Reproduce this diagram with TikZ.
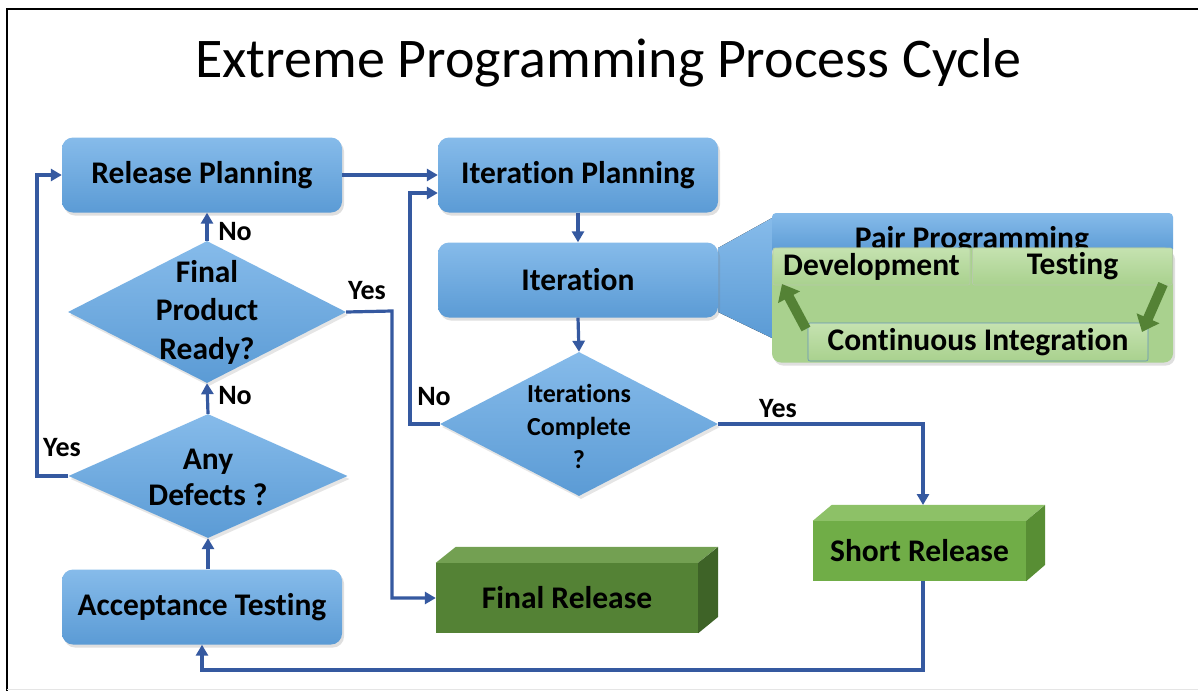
\documentclass[tikz,border=0pt]{standalone}
\usepackage{fontspec}
\setmainfont{Carlito}[Ligatures=NoCommon]
\usetikzlibrary{arrows.meta,shapes.geometric,shadows,calc}
\definecolor{boxblue}{HTML}{5B9BD5}
\definecolor{boxbluelt}{HTML}{86BBEA}
\definecolor{lineblue}{HTML}{3559A0}
\definecolor{ggreen}{HTML}{A9D18E}
\definecolor{ggreenlt}{HTML}{C5E2B0}
\definecolor{fgreen}{HTML}{548235}
\definecolor{fgreentop}{HTML}{73A052}
\definecolor{fgreenside}{HTML}{3E6327}
\definecolor{sgreen}{HTML}{70AD47}
\definecolor{sgreentop}{HTML}{8DC167}
\definecolor{sgreenside}{HTML}{588E34}
\definecolor{darrow}{HTML}{548235}
\tikzset{
  bbox/.style={rectangle, rounded corners=11pt, minimum width=280pt, minimum height=75pt,
    top color=boxbluelt, bottom color=boxblue, draw=none, inner sep=0pt,
    font=\fontsize{31.5}{34}\selectfont\bfseries,
    drop shadow={shadow xshift=2pt, shadow yshift=-3pt, opacity=0.25}},
  dshape/.style={diamond, inner sep=0pt, top color=boxbluelt, bottom color=boxblue, draw=none,
    drop shadow={shadow xshift=2pt, shadow yshift=-3pt, opacity=0.2}},
  dtext/.style={align=center, font=\fontsize{31.5}{38.5}\selectfont\bfseries, inner sep=0pt},
  conn/.style={draw=lineblue, line width=3.2pt, -{Triangle[length=11pt,width=12pt]}},
  lab/.style={font=\fontsize{28}{30}\selectfont\bfseries, inner sep=0pt},
  gbox/.style={rectangle, rounded corners=2pt, inner sep=0pt, top color=ggreenlt, bottom color=ggreen,
    draw=ggreen!80!black!60, line width=0.6pt, font=\fontsize{31.5}{34}\selectfont\bfseries},
  garrow/.style={draw=darrow, line width=10pt, -{Triangle[length=15pt,width=24pt]}},
}
\begin{document}
\begin{tikzpicture}[x=1pt,y=-1pt]
\useasboundingbox (0,0) rectangle (1198,691);
\fill[white] (0,0) rectangle (1198,691);
% frame
\draw[line width=2.6pt] (6,9) -- (1198,9);
\draw[line width=2.2pt] (7,9) -- (7,691);
\draw[black!10, line width=1pt] (7,689) -- (1198,689);

% title
\node[anchor=base, inner sep=0pt, font=\fontsize{56}{60}\selectfont] (title) at (608,77) {Extreme Programming Process Cycle};

% callout wedge
\fill[top color=boxbluelt, bottom color=boxblue] (718,248) -- (772,218) -- (772,338) -- (718,312) -- cycle;

% blue boxes
\node[bbox] (rp) at (202,175) {Release Planning};
\node[bbox] (ip) at (578,175) {Iteration Planning};
\node[bbox] (it) at (578,280) {Iteration};
\node[bbox] (at) at (202,607) {Acceptance Testing};

% diamonds
\node[dshape, minimum width=278pt, minimum height=142pt] (fp) at (207,312) {};
\node[dtext] (fpt) at (207,312) {Final\\Product\\Ready?};
\node[dshape, minimum width=279pt, minimum height=124pt] (ad) at (208,476) {};
\node[dtext, font=\fontsize{31.5}{36}\selectfont\bfseries] (adt) at (208,477) {Any\\Defects ?};
\node[dshape, minimum width=278pt, minimum height=144pt] (ic) at (579,424) {};
\node[dtext, font=\fontsize{26}{33}\selectfont\bfseries] (ict) at (579,426) {Iterations\\Complete\\?};

% Pair programming callout
\node[rectangle, rounded corners=4pt, minimum width=401pt, minimum height=40pt, inner sep=0pt,
  top color=boxbluelt, bottom color=boxblue] (pp) at (972.5,233) {};
\node[anchor=base, inner sep=0pt, font=\fontsize{31.5}{34}\selectfont\bfseries] (ppt) at (972,248) {Pair Programming};
\node[rectangle, rounded corners=9pt, minimum width=401pt, minimum height=115pt, inner sep=0pt,
  fill=ggreen, drop shadow={shadow xshift=2pt, shadow yshift=-3pt, opacity=0.25}] (gp) at (972.5,305) {};
\node[gbox, minimum width=197pt, minimum height=37pt] (dev) at (871.5,266.5) {Development};
\node[gbox, minimum width=200pt, minimum height=37pt] (tst) at (1072.5,266.5) {Testing};
\node[gbox, draw=boxblue!70!gray, minimum width=340pt, minimum height=38pt] (ci) at (978,342) {Continuous Integration};
\coordinate (ga1) at (806,329);
\coordinate (ga2) at (1163,284);
\draw[garrow] (ga1) -- (782,284);
\draw[garrow] (ga2) -- (1142,332);

% 3D boxes
\node[rectangle, minimum width=262pt, minimum height=70pt, inner sep=0pt, fill=fgreen,
  font=\fontsize{31.5}{34}\selectfont\bfseries] (fr) at (567,598) {Final Release};
\fill[fgreentop] (fr.north west) -- ++(20,-16) -- ++(262,0) -- (fr.north east) -- cycle;
\fill[fgreenside] (fr.north east) -- ++(20,-16) -- ++(0,70) -- (fr.south east) -- cycle;

\node[rectangle, minimum width=213pt, minimum height=60pt, inner sep=0pt, fill=sgreen,
  font=\fontsize{31.5}{34}\selectfont\bfseries] (sr) at (919.5,551) {Short Release};
\fill[sgreentop] (sr.north west) -- ++(19,-16) -- ++(213,0) -- (sr.north east) -- cycle;
\fill[sgreenside] (sr.north east) -- ++(19,-16) -- ++(0,60) -- (sr.south east) -- cycle;

% bend coordinates
\coordinate (b1) at (410,424);
\coordinate (b2) at (410,193);
\coordinate (srtop) at (923,505);
\coordinate (srbot) at (923,581);
\coordinate (b3) at (923,670);
\coordinate (b4) at (37,476);
\coordinate (b5) at (37,175);
\coordinate (b6) at (392,311);

% connectors
\draw[conn] (rp.east) -- (ip.west);
\draw[conn] (ic.west) -- (b1) -- (b2) -- (b2 -| ip.west);
\draw[conn] (ip.south) -- (it.north);
\draw[conn] (it.south) -- (ic.north);
\draw[conn] (ic.east) -| (srtop);
\draw[conn] (srbot) -- (b3) -| (at.south);
\draw[conn] (ad.south |- at.north) -- (ad.south);
\draw[conn] (ad.north) -- (fp.south);
\draw[conn] (fp.north) -- (fp.north |- rp.south);
\draw[conn] (ad.west) -- (b4) -- (b5) -- (rp.west);
\draw[conn] (fp.east) -- (b6) |- (fr.west);

% labels
\node[lab] (l1) at (235,232) {No};
\node[lab] (l2) at (367,291) {Yes};
\node[lab] (l3) at (235,396) {No};
\node[lab] (l4) at (62,448) {Yes};
\node[lab] (l5) at (434,397) {No};
\node[lab] (l6) at (778,409) {Yes};
\end{tikzpicture}
\end{document}
